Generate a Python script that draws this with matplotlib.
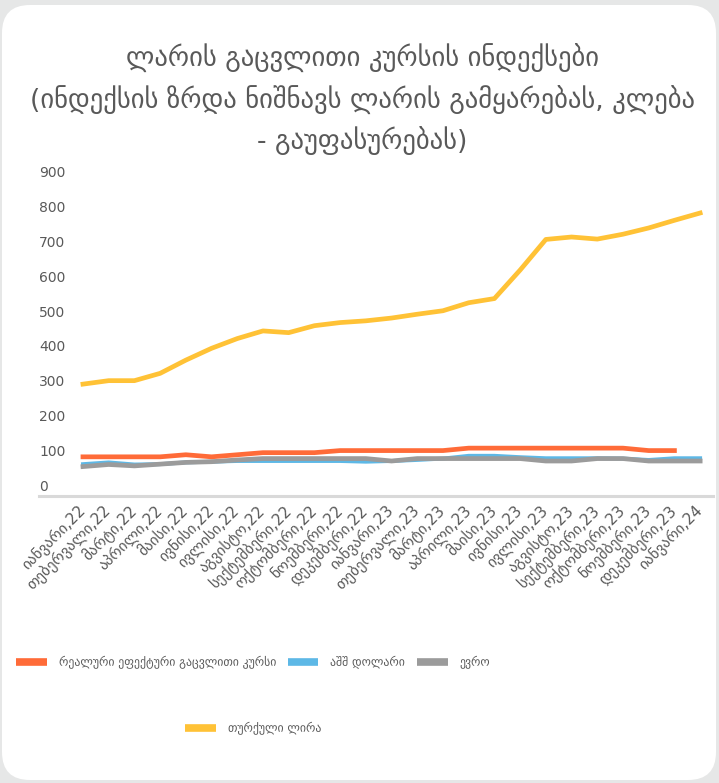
import matplotlib
matplotlib.use("Agg")
import matplotlib.pyplot as plt
from matplotlib.lines import Line2D
from matplotlib.patches import FancyBboxPatch
from matplotlib.transforms import IdentityTransform

plt.rcParams['font.family'] = ['DejaVu Sans']

labels = ['იანვარი,22', 'თებერვალი,22', 'მარტი,22', 'აპრილი,22', 'მაისი,22', 'ივნისი,22',
          'ივლისი,22', 'აგვისტო,22', 'სექტემბერი,22', 'ოქტომბერი,22', 'ნოემბერი,22', 'დეკემბერი,22',
          'იანვარი,23', 'თებერვალი,23', 'მარტი,23', 'აპრილი,23', 'მაისი,23', 'ივნისი,23',
          'ივლისი,23', 'აგვისტო,23', 'სექტემბერი,23', 'ოქტომბერი,23', 'ნოემბერი,23', 'დეკემბერი,23',
          'იანვარი,24']

reer = [81, 81, 81, 81, 87, 81, 87, 93, 93, 93, 99, 99, 99, 99, 99, 106, 106, 106, 106, 106, 106, 106, 99, 99]
usd = [60, 65, 59, 60, 65, 67, 69, 69, 69, 69, 69, 67, 69, 72, 76, 84, 84, 80, 77, 77, 77, 76, 72, 77, 77]
eur = [53, 59, 55, 60, 65, 67, 72, 76, 76, 76, 76, 76, 69, 76, 76, 76, 76, 76, 69, 69, 76, 76, 69, 69, 69]
lira = [290, 300, 300, 321, 359, 393, 421, 443, 438, 458, 467, 472, 480, 491, 501, 524, 536, 618,
        706, 713, 707, 721, 739, 761, 782]

names = ['რეალური ეფექტური გაცვლითი კურსი', 'აშშ დოლარი', 'ევრო', 'თურქული ლირა']
colors = ['#FF6B38', '#5DB8E6', '#9B9B9B', '#FFC236']
text_col = '#595959'

W, H = 719, 783
fig = plt.figure(figsize=(W / 100, H / 100), dpi=100, facecolor='#E6E7E7')
fig.patches.append(FancyBboxPatch((2, 3), 714, 775, boxstyle='round,pad=0,rounding_size=28',
                                  transform=IdentityTransform(), facecolor='white',
                                  edgecolor='none', zorder=-10))

ax = fig.add_axes([39 / W, 1 - 496 / H, (713 - 39) / W, (496 - 165) / H])
ax.set_facecolor('none')

x = list(range(len(labels)))
ax.plot(x, lira, color=colors[3], lw=3.4, solid_joinstyle='round', zorder=3)
ax.plot(x[:len(reer)], reer, color=colors[0], lw=3.4, solid_joinstyle='round', zorder=4)
ax.plot(x, usd, color=colors[1], lw=2.8, solid_joinstyle='round', zorder=2)
ax.plot(x, eur, color=colors[2], lw=3.4, solid_joinstyle='round', zorder=3)

ax.set_xlim(-1.71, 24.5)
ax.set_ylim(-31.6, 920)
ax.set_yticks(range(0, 901, 100))
ax.set_xticks(x)
ax.set_xticklabels(labels, rotation=45, ha='right', va='center', rotation_mode='anchor')
for s in ['left', 'right', 'top']:
    ax.spines[s].set_visible(False)
ax.spines['bottom'].set_color('#D9D9D9')
ax.spines['bottom'].set_linewidth(2.2)
ax.tick_params(axis='y', length=0, pad=0, labelsize=10, labelcolor=text_col)
ax.tick_params(axis='x', length=0, pad=9, labelsize=11, labelcolor=text_col)
for t in ax.get_yticklabels():
    t.set_ha('left')

title_lines = ['ლარის გაცვლითი კურსის ინდექსები',
               '(ინდექსის ზრდა ნიშნავს ლარის გამყარებას, კლება',
               '- გაუფასურებას)']
for line, yy in zip(title_lines, [58, 100, 141]):
    fig.text(362 / W, 1 - yy / H, line, ha='center', va='center', fontsize=19.2, color=text_col)

handles = [Line2D([], [], color=c, lw=5.5, solid_capstyle='butt') for c in colors]
fig.legend(handles[:3], names[:3], loc='center', bbox_to_anchor=(253 / W, 1 - 663 / H),
           ncol=3, frameon=False, fontsize=8.5, handlelength=2.6, handletextpad=1.0,
           columnspacing=1.0, labelcolor=text_col)
fig.legend(handles[3:], names[3:], loc='center', bbox_to_anchor=(253 / W, 1 - 729 / H),
           frameon=False, fontsize=8.5, handlelength=2.6, handletextpad=1.0, labelcolor=text_col)

fig.savefig('out.png', dpi=100, facecolor=fig.get_facecolor())
